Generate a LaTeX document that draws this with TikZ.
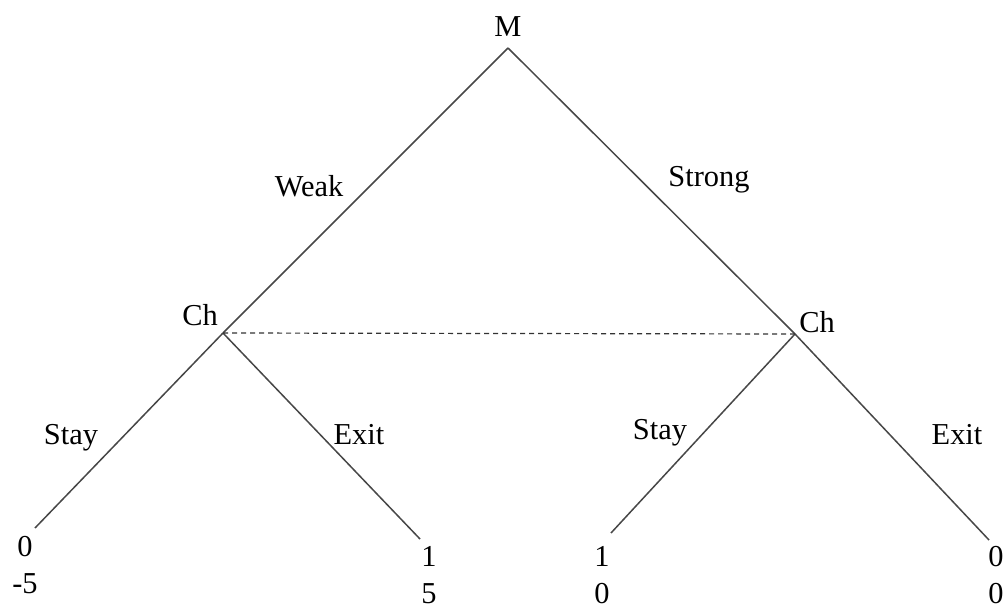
\documentclass[tikz,border=0pt]{standalone}
\usepackage{fontspec}
\setmainfont{Liberation Serif}
\usepackage{tikz}
\usetikzlibrary{positioning}

\begin{document}
\begin{tikzpicture}[
        x=0.5pt, y=-0.5pt,
        font=\fontsize{15.2}{18.5}\selectfont,
        branch/.style={draw=black!72, line width=0.75pt},
        infoset/.style={draw=black!80, line width=0.6pt, dash pattern=on 2.5pt off 2pt},
        lbl/.style={inner sep=0pt, anchor=base},
        payoff/.style={inner sep=0pt, anchor=base, align=center}
    ]

        \useasboundingbox (0,0) rectangle (1005,609);

        % vertices of the tree
        \coordinate (m)   at (508, 48);
        \coordinate (chl) at (223, 333);
        \coordinate (chr) at (795, 334);
        \coordinate (ll)  at (35, 528);
        \coordinate (lr)  at (420, 539);
        \coordinate (rl)  at (611, 533);
        \coordinate (rr)  at (989, 540);

        \draw[branch] (m) -- (chl);
        \draw[branch] (m) -- (chr);
        \draw[branch] (chl) -- (ll);
        \draw[branch] (chl) -- (lr);
        \draw[branch] (chr) -- (rl);
        \draw[branch] (chr) -- (rr);
        \draw[infoset] (chl) -- (chr);

        \node[lbl] (mlab)   at (508, 37)  {M};
        \node[lbl] (weak)   at (309, 197) {Weak};
        \node[lbl] (strong) at (709, 187) {Strong};
        \node[lbl] (chllab) at (200, 325) {Ch};
        \node[lbl] (chrlab) at (817, 332) {Ch};

        \node[lbl] (stayl) at (71, 444)  {Stay};
        \node[lbl] (exitl) at (359, 444) {Exit};
        \node[lbl] (stayr) at (660, 439) {Stay};
        \node[lbl] (exitr) at (957, 444) {Exit};

        % last line sits on the given baseline
        \node[payoff] (pll) at (25, 593)  {0\\-5};
        \node[payoff] (plr) at (429, 603) {1\\5};
        \node[payoff] (prl) at (602, 603) {1\\0};
        \node[payoff] (prr) at (996, 603) {0\\0};

    \end{tikzpicture}
\end{document}
